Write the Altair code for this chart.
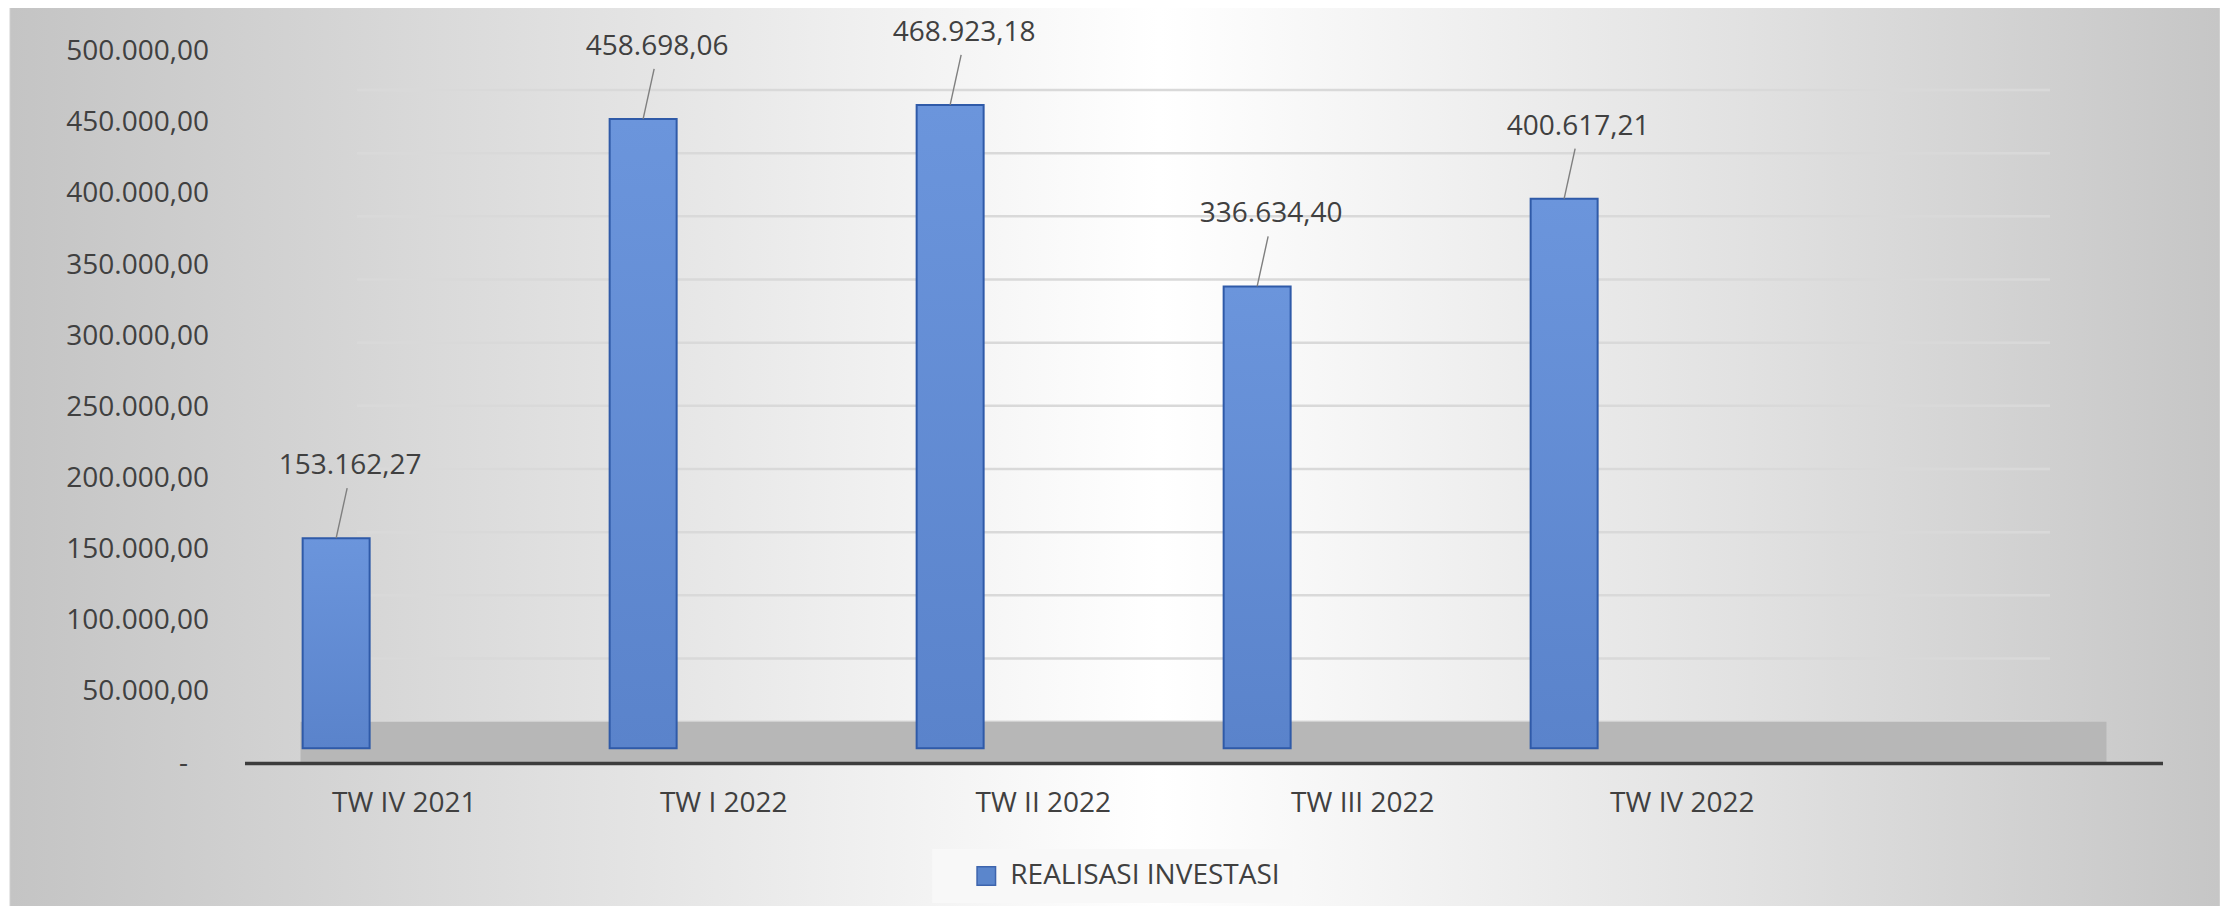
import altair as alt
import pandas as pd

# ---- data ----
categories = ["TW IV 2021", "TW I 2022", "TW II 2022", "TW III 2022", "TW IV 2022"]
values = [153162.27, 458698.06, 468923.18, 336634.40, 400617.21]
series_name = "REALISASI INVESTASI"
y_ticks = [0, 50000, 100000, 150000, 200000, 250000, 300000, 350000, 400000, 450000, 500000]

df = pd.DataFrame({"cat": categories, "value": values})
ticks_df = pd.DataFrame({"tick": y_ticks})
legend_df = pd.DataFrame({"series": [series_name]})
one_df = pd.DataFrame({"k": [0]})

W = 1918
H = 711.3
FONT = "Open Sans"
TXT = "#404040"

ID_FMT = ("replace(replace(replace(format({v}, ',.2f'), /,/g, '_'), /\\./g, ','), /_/g, '.')")

# ---- background frame (decoration) ----
bg = alt.Chart(one_df).mark_rect(
    fill=alt.Gradient(
        gradient="linear", x1=0, y1=0, x2=1, y2=0,
        stops=[
            alt.GradientStop(offset=0, color="#c4c4c4"),
            alt.GradientStop(offset=0.25, color="#e0e0e0"),
            alt.GradientStop(offset=0.52, color="#ffffff"),
            alt.GradientStop(offset=0.78, color="#e2e2e2"),
            alt.GradientStop(offset=1, color="#c6c6c6"),
        ],
    ),
    stroke="#d0d0d0", strokeWidth=1,
).encode(x=alt.value(-234.5), x2=alt.value(1975), y=alt.value(-46), y2=alt.value(870))

# ---- back-wall gridlines ----
grid = alt.Chart(ticks_df).mark_rule(color="#d9d9d9", strokeWidth=2.5).encode(
    y=alt.Y("tick:Q", scale=alt.Scale(domain=[-32690, 530315], nice=False, zero=False), axis=None),
    x=alt.value(112.5), x2=alt.value(1805.5),
)

# ---- floor (decoration) ----
floor = alt.Chart(one_df).mark_rect(color="#b7b7b7").encode(
    x=alt.value(56), x2=alt.value(1862), y=alt.value(670), y2=alt.value(710.3)
)

# ---- axis layer (labels) ----
axis_layer = alt.Chart(df).mark_point(opacity=0).encode(
    x=alt.X(
        "cat:N",
        scale=alt.Scale(type="band", domain=categories, paddingInner=0, paddingOuter=0.5015, align=0),
        axis=alt.Axis(title=None, labelAngle=0, labelFont=FONT, labelFontSize=28, labelColor=TXT,
                      labelPadding=40, labelBaseline="middle", ticks=False, domain=True,
                      domainColor="#3c3c3c", domainWidth=3.5, grid=False, zindex=1),
    ),
    y=alt.Y(
        "value:Q", scale=alt.Scale(domain=[0, 500000], nice=False),
        axis=alt.Axis(title=None, values=y_ticks,
                      labelExpr="datum.value == 0 ? '-\u2800' : " + ID_FMT.format(v="datum.value"),
                      ticks=False, domain=False, grid=False, labelFont=FONT, labelFontSize=28,
                      labelColor=TXT, labelPadding=36, zindex=1),
    ),
)

# ---- bars, leader lines and value labels ----
# the category axis of the original reserves one empty slot at the right
xb = alt.X("cat:N",
           scale=alt.Scale(type="band", domain=categories + [" "],
                           paddingInner=0.7818, paddingOuter=0.5147, align=0.184),
           axis=None)
yb = alt.Y("value:Q", scale=alt.Scale(domain=[-10714, 507726], nice=False, zero=False), axis=None)

bar_fill = alt.Gradient(
    gradient="linear", x1=0, y1=0, x2=0, y2=1,
    stops=[alt.GradientStop(offset=0, color="#6b95dc"), alt.GradientStop(offset=1, color="#5a83cb")],
)

bars = alt.Chart(df).mark_bar(fill=bar_fill, stroke="#2f5aa8", strokeWidth=2).encode(
    x=xb, y=yb, y2=alt.datum(0)
)
leaders = alt.Chart(df).mark_rule(color="#7f7f7f", strokeWidth=1.4, x2Offset=11, y2Offset=-50).encode(
    x=xb, x2=alt.X2("cat"), y=yb, y2=alt.Y2("value")
)
labels = alt.Chart(df).transform_calculate(
    lbl=ID_FMT.format(v="datum.value")
).mark_text(font=FONT, fontSize=28, color=TXT, dx=14, dy=-72, baseline="middle", align="center").encode(
    x=xb, y=yb, text="lbl:N"
)
bars_layer = alt.layer(bars, leaders, labels)

# ---- legend ----
leg = alt.Chart(legend_df).mark_square(opacity=0).encode(
    color=alt.Color(
        "series:N", scale=alt.Scale(range=["#5b86cc"]),
        legend=alt.Legend(title=None, orient="none", legendX=687.8, legendY=797.3,
                          fillColor="#f8f8f8", padding=13, symbolType="square", symbolSize=342,
                          symbolStrokeColor="#3d64ad", symbolStrokeWidth=1.5, symbolOpacity=1,
                          symbolOffset=27, labelFont=FONT, labelFontSize=28, labelColor=TXT,
                          labelOffset=10, labelLimit=600, zindex=1),
    )
)

chart = (
    alt.layer(bg, grid, floor, axis_layer, bars_layer, leg)
    .resolve_scale(x="independent", y="independent")
    .properties(
        width=W, height=H,
        padding={"left": 236.5, "top": 43.7, "right": 63.5, "bottom": 143},
        autosize=alt.AutoSizeParams(type="none"),
    )
    .configure_view(stroke=None)
    .configure(font=FONT)
)

chart.save("out.html", embed_options={"renderer": "svg", "actions": False})
